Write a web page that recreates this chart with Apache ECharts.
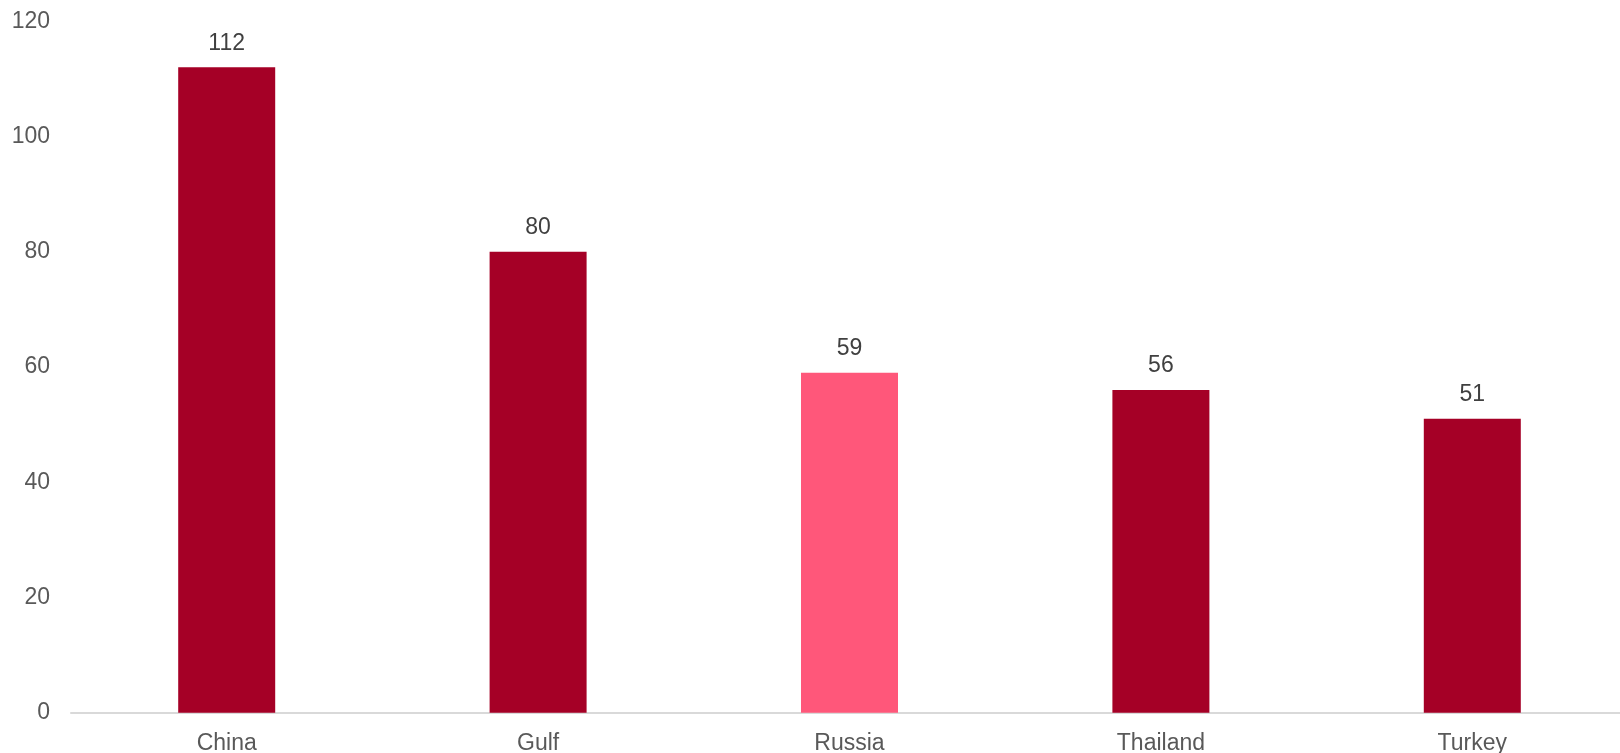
<!DOCTYPE html>
<html>
<head>
<meta charset="utf-8">
<script src="https://cdn.jsdelivr.net/npm/echarts@6/dist/echarts.min.js"></script>
<style>
  html, body { margin: 0; padding: 0; background: #fff; width: 1620px; height: 753px; overflow: hidden; }
  #frame { width: 1620px; height: 753px; overflow: hidden; position: relative; }
  /* plot area runs slightly past the right edge of the frame */
  #chart { position: absolute; left: 0; top: 0; width: 1628px; height: 753px; }
</style>
</head>
<body>
<div id="frame"><div id="chart"></div></div>
<script>
// Countries and their values
const categories = ['China', 'Gulf', 'Russia', 'Thailand', 'Turkey'];
const values = [112, 80, 59, 56, 51];
// Highlighted country drawn in pink
const highlighted = ['Russia'];

const darkRed = '#A50026';
const pink = '#FF577A';
const font = 'Liberation Sans, Arial, sans-serif';

const chart = echarts.init(document.getElementById('chart'));
chart.setOption({
  animation: false,
  grid: { left: 71, top: 21.2, right: 0, bottom: 40.3, containLabel: false, outerBoundsMode: 'none' },
  xAxis: {
    type: 'category',
    data: categories,
    axisLine: { show: true, lineStyle: { color: '#D9D9D9', width: 2 } },
    axisTick: { show: false },
    axisLabel: { color: '#595959', fontSize: 23, fontFamily: font, margin: 19 }
  },
  yAxis: {
    type: 'value',
    min: 0, max: 120, interval: 20,
    axisLine: { show: false },
    axisTick: { show: false },
    splitLine: { show: false },
    axisLabel: { color: '#595959', fontSize: 23, fontFamily: font, margin: 21, padding: [4, 0, 0, 0] }
  },
  series: [{
    type: 'bar',
    barWidth: 97,
    data: values.map((v, i) => ({
      value: v,
      itemStyle: { color: highlighted.includes(categories[i]) ? pink : darkRed }
    })),
    label: { show: true, position: 'top', distance: 12.5, color: '#404040', fontSize: 23, fontFamily: font }
  }]
});
</script>
</body>
</html>
